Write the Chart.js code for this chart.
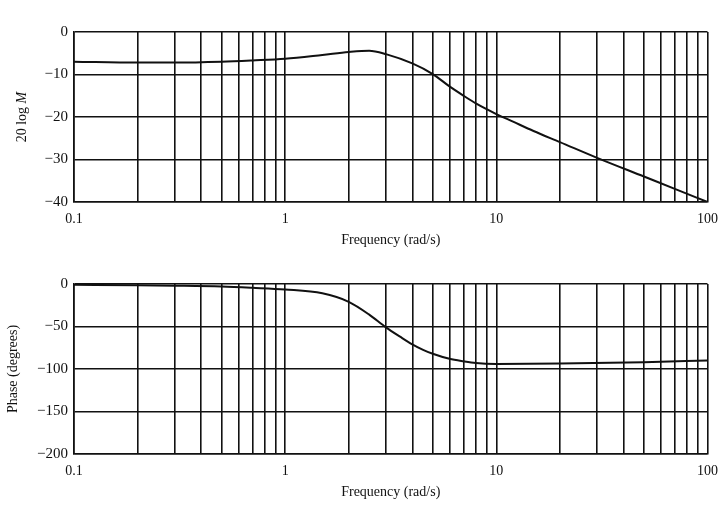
<!DOCTYPE html>
<html>
<head>
<meta charset="utf-8">
<script src="https://cdn.jsdelivr.net/npm/chart.js@4.4.0/dist/chart.umd.min.js"></script>
<style>
body { margin: 0; background: #fff; }
.wrap { position: absolute; left: 0; width: 727px; }
#topWrap { top: 0; height: 260px; }
#botWrap { top: 260px; height: 245px; }
</style>
</head>
<body>
<div class="wrap" id="topWrap"><canvas id="magChart" width="727" height="260"></canvas></div>
<div class="wrap" id="botWrap"><canvas id="phaseChart" width="727" height="245"></canvas></div>
<script>
// log grid lines and the decade labels
const gridFreqs = [0.1, 0.2, 0.3, 0.4, 0.5, 0.6, 0.7, 0.8, 0.9,
                   1, 2, 3, 4, 5, 6, 7, 8, 9,
                   10, 20, 30, 40, 50, 60, 70, 80, 90, 100];
const decadeLabels = [0.1, 1, 10, 100];

// magnitude curve (dB)
const magFreq = [0.1, 0.2, 0.3, 0.5, 0.7, 1, 1.5, 2, 2.5, 3, 4, 5, 6, 7, 8, 10, 12, 15, 20, 30, 50, 70, 100];
const magDb   = [-7.0, -7.2, -7.2, -7.0, -6.7, -6.3, -5.4, -4.7, -4.4, -5.2, -7.4, -9.9, -12.8, -15.0, -16.8, -19.3, -21.1, -23.3, -25.9, -29.6, -34.0, -36.9, -40.0];

// phase curve (degrees)
const phaseFreq = [0.1, 0.2, 0.3, 0.5, 0.7, 1, 1.5, 2, 2.5, 3, 3.5, 4, 4.5, 5, 6, 7, 8, 10, 20, 50, 100];
const phaseDeg  = [-1, -1.5, -2, -3, -4.5, -6.5, -11, -21, -36, -51, -62, -71, -77.5, -82, -88, -91, -93, -94, -93.5, -92, -90];

const serif = 'Liberation Serif';
const ink = '#111';

function fixTicks(scale) {
    scale.ticks = gridFreqs.map(v => ({ value: v }));
}

// y title "20 log M" with an italic M
const magTitle = {
    id: 'magTitle',
    afterDraw(chart) {
        const c = chart.ctx;
        const a = chart.chartArea;
        c.save();
        c.translate(22, (a.top + a.bottom) / 2);
        c.rotate(-Math.PI / 2);
        c.fillStyle = ink;
        c.textBaseline = 'middle';
        c.font = '14px "' + serif + '"';
        const w1 = c.measureText('20 log ').width;
        c.font = 'italic 14px "' + serif + '"';
        const w2 = c.measureText('M').width;
        const x0 = -(w1 + w2) / 2;
        c.font = '14px "' + serif + '"';
        c.fillText('20 log ', x0, 0);
        c.font = 'italic 14px "' + serif + '"';
        c.fillText('M', x0 + w1, 0);
        c.restore();
    }
};

function makeChart(id, xs, ys, yMin, yMax, yStep, yTitle, pad, titlePad, extra) {
    const ctx = document.getElementById(id).getContext('2d');
    return new Chart(ctx, {
        type: 'line',
        data: {
            datasets: [{
                data: xs.map((x, i) => ({ x: x, y: ys[i] })),
                borderColor: ink,
                borderWidth: 2,
                pointRadius: 0,
                cubicInterpolationMode: 'monotone',
                fill: false
            }]
        },
        plugins: extra,
        options: {
            responsive: false,
            animation: false,
            layout: { padding: pad },
            plugins: { legend: { display: false }, tooltip: { enabled: false } },
            scales: {
                x: {
                    type: 'logarithmic',
                    min: 0.1,
                    max: 100,
                    afterBuildTicks: fixTicks,
                    afterFit: s => { s.height = 45; },
                    grid: { color: ink, lineWidth: 1.6, drawTicks: false },
                    border: { color: ink, width: 1.6 },
                    ticks: {
                        autoSkip: false,
                        maxRotation: 0,
                        padding: 9,
                        color: ink,
                        font: { family: serif, size: 14 },
                        callback: v => decadeLabels.includes(v) ? String(v) : ''
                    },
                    title: {
                        display: true,
                        text: 'Frequency (rad/s)',
                        color: ink,
                        font: { family: serif, size: 14, lineHeight: 1 },
                        padding: { top: 0, bottom: 0 }
                    }
                },
                y: {
                    min: yMin,
                    max: yMax,
                    afterFit: s => { s.width = 74; },
                    grid: { color: ink, lineWidth: 1.6, drawTicks: false },
                    border: { color: ink, width: 1.6 },
                    ticks: {
                        stepSize: yStep,
                        padding: 6,
                        color: ink,
                        font: { family: serif, size: 15 },
                        callback: v => String(v).replace('-', '\u2212')
                    },
                    title: {
                        display: yTitle !== '',
                        text: yTitle,
                        color: ink,
                        font: { family: serif, size: 14 },
                        padding: titlePad
                    }
                }
            }
        }
    });
}

makeChart('magChart', magFreq, magDb, -40, 0, 10, '',
    { top: 32, right: 12, bottom: 13, left: 0 }, { top: 13, bottom: 0 }, [magTitle]);
makeChart('phaseChart', phaseFreq, phaseDeg, -200, 0, 50, 'Phase (degrees)',
    { top: 24, right: 12, bottom: 6, left: 0 }, { top: 5, bottom: 0 }, []);
</script>
</body>
</html>
